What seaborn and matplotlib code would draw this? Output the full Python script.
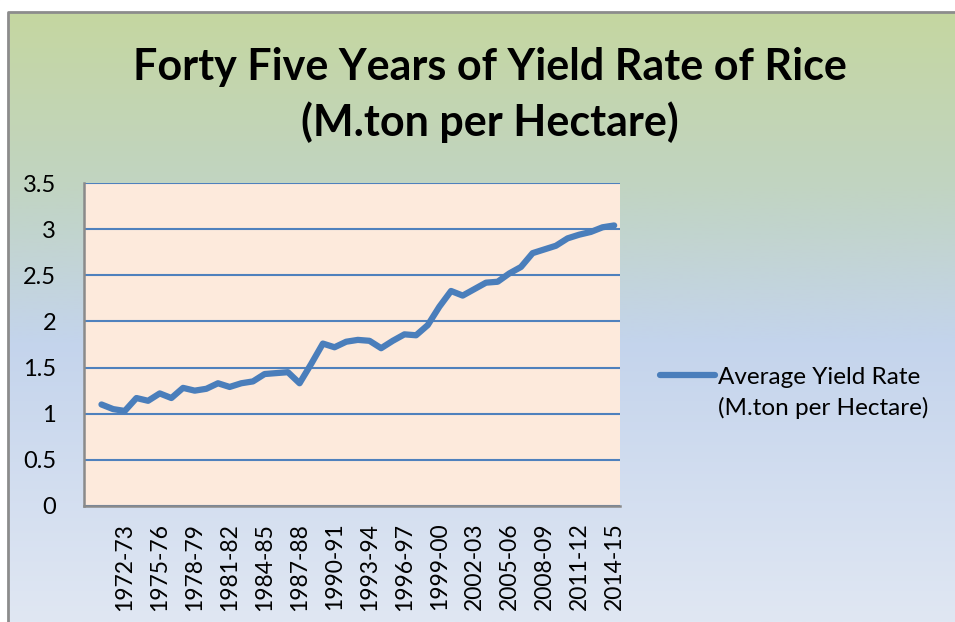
import numpy as np
import pandas as pd
import matplotlib
matplotlib.use("Agg")
import matplotlib.pyplot as plt
import seaborn as sns
from matplotlib.colors import LinearSegmentedColormap
from matplotlib.patches import Rectangle

# ---- data ----
seasons = [f"{y}-{str(y + 1)[-2:]}" for y in range(1970, 2015)]
yield_rate = [1.10, 1.05, 1.03, 1.17, 1.14, 1.22, 1.17, 1.28, 1.25, 1.27,
              1.33, 1.29, 1.33, 1.35, 1.43, 1.44, 1.45, 1.33, 1.54, 1.76,
              1.72, 1.78, 1.80, 1.79, 1.71, 1.79, 1.86, 1.85, 1.96, 2.16,
              2.33, 2.28, 2.35, 2.42, 2.43, 2.52, 2.59, 2.74, 2.78, 2.82,
              2.90, 2.94, 2.97, 3.02, 3.04]
label_seasons = seasons[2::3]
y_ticks = [0, 0.5, 1, 1.5, 2, 2.5, 3, 3.5]
title = "Forty Five Years of Yield Rate of Rice\n(M.ton per Hectare)"
series_name = "Average Yield Rate\n(M.ton per Hectare)"

df = pd.DataFrame({"season": seasons, "value": yield_rate})

sns.set_theme(style="white")
plt.rcParams["font.family"] = ["Lato", "DejaVu Sans"]
plt.rcParams["text.color"] = "black"
plt.rcParams["xtick.labelcolor"] = "black"
plt.rcParams["ytick.labelcolor"] = "black"

W, H = 955, 622
fig = plt.figure(figsize=(W / 100, H / 100), dpi=100)

# background gradient
bg = fig.add_axes([0, 0, 1, 1], zorder=-10)
cmap = LinearSegmentedColormap.from_list(
    "bg", [(0.0, "#c5d79e"), (0.30, "#c1d4c2"), (0.55, "#c4d4ec"), (1.0, "#e0e7f3")])
grad = np.linspace(0, 1, 256).reshape(-1, 1)
bg.imshow(grad, aspect="auto", cmap=cmap, extent=[0, 1, 0, 1], origin="upper")
bg.set_xlim(0, 1)
bg.set_ylim(0, 1)
bg.axis("off")
bg.add_patch(Rectangle((0, 1 - 11 / H), 1, 11 / H, color="white", zorder=2))
bg.add_patch(Rectangle((0, 0), 7.5 / W, 1, color="white", zorder=2))
bg.plot([7.5 / W, 7.5 / W, 1.01], [0, 1 - 11.5 / H, 1 - 11.5 / H], color="#8c8c8c", lw=2,
        zorder=3, clip_on=False)

ax = fig.add_axes([84 / W, 1 - 506 / H, (620 - 84) / W, (506 - 183) / H])
ax.set_facecolor("#fdeadc")

sns.lineplot(data=df, x="season", y="value", ax=ax, color="#4a7ebb", lw=4.5,
             label=series_name, sort=False, solid_capstyle="round", solid_joinstyle="round")

n = len(seasons)
ax.set_xlim(-1.5, n - 0.5)
ax.set_ylim(0, 3.5)
ax.set_yticks(y_ticks)
ax.set_yticklabels([f"{t:g}" for t in y_ticks])
ax.set_xticks([seasons.index(s) for s in label_seasons])
ax.set_xticklabels(label_seasons, rotation=90)
ax.set_xticks(np.arange(-1.5, n, 1.0), minor=True)
ax.tick_params(axis="x", which="major", length=0, pad=12, labelsize=16.5, labelcolor="black")
ax.tick_params(axis="x", which="minor", length=6, width=1.5, color="#8a8a8a", direction="out")
ax.tick_params(axis="y", which="major", length=7, width=1.5, color="#8a8a8a", direction="out",
               labelsize=17, pad=13, labelcolor="black")
ax.grid(axis="y", color="#4f81bd", lw=1.5)
ax.grid(axis="x", visible=False)
ax.set_xlabel("")
ax.set_ylabel("")
for s in ["top", "right"]:
    ax.spines[s].set_visible(False)
for s in ["left", "bottom"]:
    ax.spines[s].set_color("#8a8a8a")
    ax.spines[s].set_linewidth(1.8)
ax.set_axisbelow(True)

leg = ax.legend(loc="center left", bbox_to_anchor=(648 / W, 1 - 393 / H), bbox_transform=fig.transFigure,
                frameon=False, fontsize=17.5, handlelength=2.25, handletextpad=0.15, borderpad=0,
                labelspacing=0.2)
for t in leg.get_texts():
    t.set_linespacing(1.45)
    t.set_color("black")
hl = leg.get_lines()[0]
hl.set_ydata(np.asarray(hl.get_ydata()) + 13)

fig.text(0.513, 1 - 95 / H, title, ha="center", va="center", fontsize=31, fontweight="bold",
         linespacing=1.42, color="black")

fig.savefig("out.png", dpi=100)
